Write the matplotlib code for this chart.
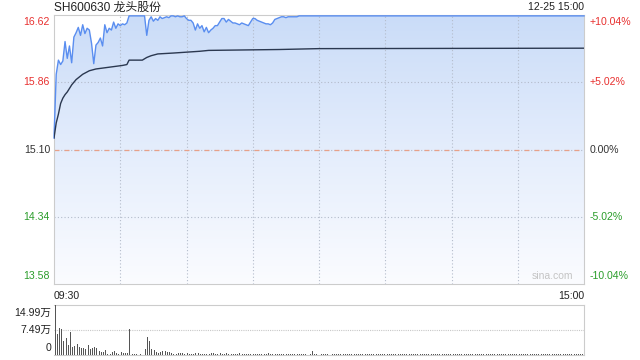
import numpy as np
import matplotlib
matplotlib.use('Agg')
import matplotlib.pyplot as plt
from matplotlib.colors import LinearSegmentedColormap

plt.rcParams['font.family'] = ['Liberation Sans', 'Noto Sans CJK SC', 'DejaVu Sans']

title = 'SH600630 龙头股份'
stamp = '12-25 15:00'
prev_close = 15.10
price_ticks = [16.62, 15.86, 15.10, 14.34, 13.58]
price_labels = ['16.62', '15.86', '15.10', '14.34', '13.58']
pct_labels = ['+10.04%', '+5.02%', '0.00%', '-5.02%', '-10.04%']
vol_ticks = [14.99, 7.49, 0]
vol_labels = ['14.99万', '7.49万', '0']
time_labels = ['09:30', '15:00']

# minute price, 09:30 onwards (limit-up 16.61 held after ~11:22)
price_am = [
    15.23, 15.95, 16.11, 16.06, 16.10, 16.32, 16.13, 16.27, 16.08, 16.37,
    16.42, 16.48, 16.39, 16.51, 16.41, 16.47, 16.45, 16.30, 16.07, 16.28,
    16.31, 16.36, 16.27, 16.51, 16.42, 16.47, 16.45, 16.54, 16.47, 16.52,
    16.50, 16.52, 16.51, 16.53, 16.61, 16.61, 16.61, 16.61, 16.61, 16.61,
    16.61, 16.61, 16.39, 16.56, 16.60, 16.55, 16.58, 16.56, 16.60, 16.58,
    16.59, 16.60, 16.59, 16.61, 16.61, 16.60, 16.61, 16.60, 16.60, 16.61,
    16.58, 16.56, 16.56, 16.53, 16.45, 16.52, 16.47, 16.50, 16.43, 16.48,
    16.42, 16.45, 16.47, 16.50, 16.50, 16.54, 16.58, 16.58, 16.54, 16.57,
    16.55, 16.53, 16.53, 16.52, 16.51, 16.53, 16.52, 16.51, 16.50, 16.54,
    16.58, 16.58, 16.56, 16.55, 16.54, 16.53, 16.52, 16.52, 16.51, 16.53,
    16.57, 16.58, 16.59, 16.60, 16.60, 16.59, 16.60, 16.60, 16.60, 16.60,
    16.60, 16.61, 16.61,
]
close_price = 16.61
price_min = list(range(len(price_am))) + [240]
price = price_am + [close_price]

avg_min = [0, 1, 2, 3, 4, 5, 6, 7, 8, 9, 10, 12, 13, 16, 19, 25, 31, 33,
           34, 40, 42, 44, 47, 54, 66, 70, 102, 120, 240]
avg = [15.23, 15.40, 15.50, 15.62, 15.68, 15.72, 15.75, 15.79, 15.83, 15.86,
       15.89, 15.93, 15.95, 15.99, 16.01, 16.03, 16.05, 16.06, 16.11, 16.11,
       16.14, 16.16, 16.18, 16.19, 16.21, 16.22, 16.23, 16.24, 16.245]

# volume per minute, in 万股
volume = [
    14.99, 6.2, 8.0, 7.8, 4.2, 5.0, 3.0, 7.0, 2.5, 2.8,
    3.2, 2.3, 2.0, 2.2, 1.8, 3.0, 1.8, 2.2, 2.4, 2.0,
    1.2, 0.8, 1.0, 1.5, 0.4, 0.2, 0.8, 1.2, 0.5, 0.4,
    1.0, 0.6, 0.6, 0.6, 7.8,
    0.2, 0.2, 0.3, 0.1, 0.2, 0.1,
    1.8, 5.5, 4.2, 1.8, 1.5, 1.0, 0.6, 0.8, 1.2, 1.2, 0.8, 0.8, 0.6, 0.4, 0.4, 0.6,
    0.6, 0.5, 0.4, 0.5, 0.4, 0.3, 0.4, 0.5, 0.6, 0.4, 0.3, 0.4, 0.3, 0.4,
    0.5, 0.7, 0.4, 0.3, 0.6, 0.4, 0.3, 0.5, 0.4, 0.3,
    0.2, 0.4, 0.3, 0.5, 0.3, 0.2, 0.3, 0.4, 0.2, 0.3,
    0.3, 0.2, 0.4, 0.3, 0.2, 0.3, 0.5, 0.3, 0.2, 0.3,
    0.2, 0.3, 0.2, 0.4, 0.3, 0.2, 0.3, 0.2, 0.3, 0.4,
    0.3, 0.2, 0.3, 0.2, 0.3, 0.2, 1.2, 0.3, 0.2, 0.2,
    0.2, 0.3, 0.2, 0.2, 0.3, 0.2, 0.2, 0.2, 0.3, 0.2,
    0.2, 0.2, 0.3, 0.2, 0.2, 0.2, 0.2, 0.3, 0.2, 0.2,
    0.3, 0.2, 0.2, 0.2, 0.2, 0.3, 0.2, 0.2, 0.2, 0.2,
    0.2, 0.2, 0.3, 0.2, 0.2, 0.2, 0.3, 0.2, 0.2, 0.2,
    0.2, 0.3, 0.2, 0.2, 0.2, 0.2, 0.2, 0.3, 0.2, 0.2,
    0.2, 0.2, 0.2, 0.3, 0.2, 0.2, 0.2, 0.2, 0.2, 0.3,
    0.2, 0.2, 0.2, 0.2, 0.3, 0.2, 0.2, 0.2, 0.2, 0.2,
    0.3, 0.2, 0.2, 0.2, 0.2, 0.2, 0.3, 0.2, 0.2, 0.2,
    0.2, 0.2, 0.3, 0.2, 0.2, 0.2, 0.2, 0.2, 0.3, 0.2,
    0.2, 0.3, 0.2, 0.2, 0.2, 0.2, 0.3, 0.2, 0.2, 0.2,
    0.2, 0.2, 0.2, 0.3, 0.2, 0.2, 0.2, 0.3, 0.2, 0.2,
    0.3, 0.2, 0.2, 0.2, 0.3, 0.2, 0.3, 0.2, 0.3, 0.4,
]

RED = '#e8302f'
GREEN = '#2a9d2a'
DARK = '#333333'
label_colors = [RED, RED, DARK, GREEN, GREEN]
GRID = '#b4bccb'

fig = plt.figure(figsize=(6.4, 3.6), dpi=100)
W, H = 640, 360
L, R = 54, 584

def box(x0, y0, x1, y1):
    return [x0 / W, 1 - y1 / H, (x1 - x0) / W, (y1 - y0) / H]

ax = fig.add_axes(box(L, 15, R, 284))
ymin, ymax = price_ticks[-1], price_ticks[0]
ax.set_xlim(0, 240)
ax.set_ylim(ymin, ymax)

# gradient area under the price line
cmap = LinearSegmentedColormap.from_list('fill', ['#fbfcff', '#e4edfc', '#cadcf8'])
grad = np.linspace(0, 1, 256).reshape(-1, 1)
img = ax.imshow(grad, extent=[0, 240, ymin, ymax], origin='lower', aspect='auto',
                cmap=cmap, zorder=1)
poly = ax.fill_between(price_min, price, ymin, facecolor='none', edgecolor='none')
img.set_clip_path(poly.get_paths()[0], transform=ax.transData)

for m in range(30, 240, 30):
    ax.axvline(m, color=GRID, lw=0.8, ls=(0, (1, 2)), zorder=2)
for p in [price_ticks[1], price_ticks[3]]:
    ax.axhline(p, color=GRID, lw=0.8, ls=(0, (1, 2)), zorder=2)
ax.axhline(prev_close, color=GRID, lw=0.8, ls=(0, (1, 2)), zorder=2)
ax.axhline(prev_close, color='#e8a088', lw=0.9, ls=(0, (4, 4)), zorder=2)

ax.plot(price_min, price, color='#5a8ef0', lw=1.0, zorder=4, clip_on=False)
ax.plot(avg_min, avg, color='#2b3850', lw=1.0, zorder=4)

ax.set_xticks([])
ax.set_yticks([])
for s in ax.spines.values():
    s.set_color('#cccccc')
    s.set_linewidth(0.8)

fs = 7.6
for i, (p, lab, pl) in enumerate(zip(price_ticks, price_labels, pct_labels)):
    va = 'top' if i == 0 else ('bottom' if i == 4 else 'center')
    off = -0.02 if i == 0 else (0.03 if i == 4 else 0)
    ax.text(-4 / 530 * 240, p + off, lab, ha='right', va=va, color=label_colors[i],
            fontsize=fs, transform=ax.transData)
    ax.text(240 + 6 / 530 * 240, p + off, pl, ha='left', va=va, color=label_colors[i],
            fontsize=fs, transform=ax.transData)

ax.text(0.98, 0.012, 'sina.com', transform=ax.transAxes, ha='right', va='bottom',
        color='#c4c4c4', fontsize=7.5)

fig.text(L / W, 1 - 7.5 / H, title, ha='left', va='center', fontsize=8.6, color='#222222')
fig.text(R / W, 1 - 7.5 / H, stamp, ha='right', va='center', fontsize=7.6, color='#222222')
fig.text(L / W, 1 - 296 / H, time_labels[0], ha='left', va='center', fontsize=fs, color='#222222')
fig.text(R / W, 1 - 296 / H, time_labels[1], ha='right', va='center', fontsize=fs, color='#222222')

# volume panel
vax = fig.add_axes(box(L, 305, R, 355))
minutes = np.arange(len(volume))
vax.bar(minutes, volume, width=0.45, color='#555555', zorder=3)
vax.set_xlim(-0.5, 240.5)
vax.set_ylim(0, vol_ticks[0])
vax.axhline(vol_ticks[1], color='#c8c8c8', lw=0.8, ls=(0, (1, 1)), zorder=1)
vax.set_xticks([])
vax.set_yticks([])
for name, s in vax.spines.items():
    s.set_color('#cccccc')
    s.set_linewidth(0.8)
    if name in ('top', 'bottom'):
        s.set_linestyle((0, (1, 1)))
vax.spines['left'].set_visible(False)

for i, (v, lab) in enumerate(zip(vol_ticks, vol_labels)):
    va = 'top' if i == 0 else ('bottom' if i == 2 else 'center')
    off = -1.0 if i == 0 else (0.5 if i == 2 else 0)
    vax.text(-4 / 530 * 240, v + off, lab, ha='right', va=va, color='#222222',
             fontsize=fs)

fig.savefig('out.png', dpi=100)
